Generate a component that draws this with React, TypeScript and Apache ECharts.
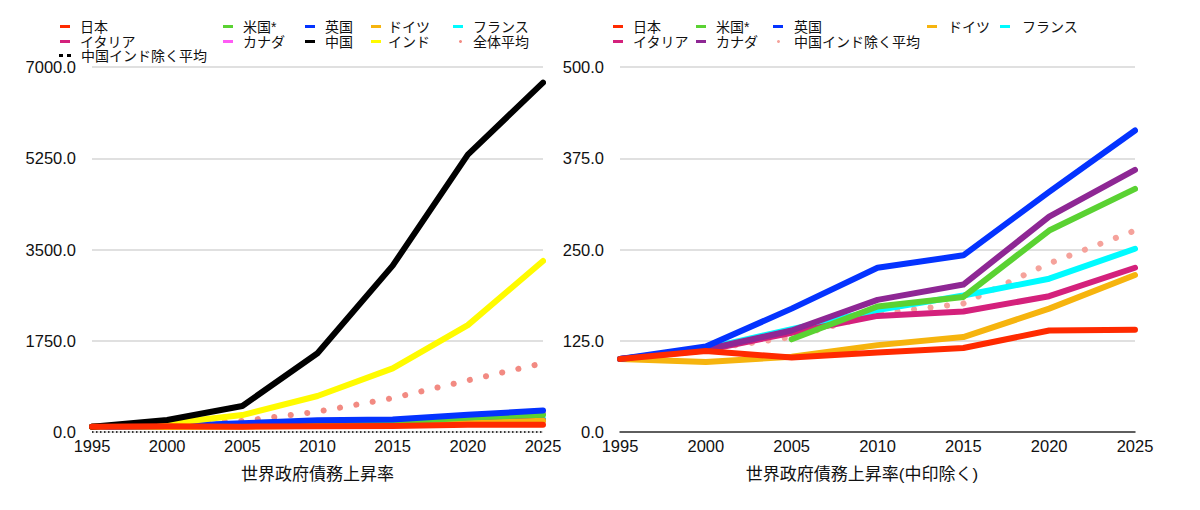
import React, { useEffect, useRef } from "react";
import * as echarts from "echarts";

const years = ["1995", "2000", "2005", "2010", "2015", "2020", "2025"];

const japan = [100, 111, 102, 109, 115, 139, 140];
const usa = [null, null, 127, 172, 185, 276, 333];
const uk = [100, 117, 169, 225, 242, 329, 413];
const germany = [100, 96, 103, 119, 130, 169, 215];
const france = [100, 114, 141, 167, 187, 210, 251];
const italy = [100, 112, 136, 159, 165, 186, 225];
const canada = [100, 113, 139, 181, 202, 295, 359];
const china = [100, 230, 500, 1510, 3190, 5320, 6700];
const india = [100, 165, 325, 690, 1221, 2050, 3280];
const avgAll = [100, 150, 210, 390, 650, 990, 1320];
const avgExLeft = [0, 0, 0, 0, 0, 0, 0];
const avgExRight = [100, 113, 130, 162, 176, 231, 276];

const leftTicks = [0, 1750, 3500, 5250, 7000];
const rightTicks = [0, 125, 250, 375, 500];

const FONT = "'Liberation Sans', 'Noto Sans CJK JP', sans-serif";

const C = {
  japan: "#ff2a00",
  usa: "#5ad232",
  uk: "#0433ff",
  germany: "#f6b40e",
  france: "#00fbff",
  italy: "#d4217c",
  canadaL: "#ff5cf5",
  canadaR: "#8e2794",
  china: "#000000",
  india: "#fffb00",
  avgL: "#f28a82",
  avgR: "#f5a29b",
};

function lineSeries(name: string, data: any[], color: string, extra: any = {}) {
  return {
    type: "line",
    name,
    data,
    color,
    symbol: "none",
    showSymbol: false,
    smooth: false,
    lineStyle: { width: 6, color, cap: "round", join: "round" },
    itemStyle: { color },
    ...extra,
  };
}

function dotted(name: string, data: any[], color: string) {
  return lineSeries(name, data, color, {
    lineStyle: { width: 6, color, type: [0.1, 16.5], cap: "round" },
  });
}

function legendItem(name: string, left: number, top: number, opts: any = {}) {
  return {
    data: [name],
    left,
    top,
    padding: 0,
    itemGap: 0,
    itemWidth: opts.itemWidth ?? 10,
    itemHeight: opts.itemHeight ?? 3,
    icon: opts.icon ?? "rect",
    selectedMode: false,
    textStyle: {
      fontFamily: FONT,
      fontSize: 14,
      lineHeight: 15,
      color: "#111",
      padding: [0, 0, 0, opts.pad ?? 5],
    },
  };
}

function axisBase(ticks: number[]) {
  return {
    type: "value",
    min: ticks[0],
    max: ticks[ticks.length - 1],
    interval: ticks[1] - ticks[0],
    axisLine: { show: false },
    axisTick: { show: false },
    axisLabel: {
      formatter: (v: number) => v.toFixed(1),
      fontFamily: FONT,
      fontSize: 16.5,
      color: "#111",
      margin: 16,
    },
    splitLine: { show: true, lineStyle: { color: "#d6d6d6", width: 1.5 } },
  };
}

function xAxisBase(name: string, axisLine: any, namePad: number[]) {
  return {
    type: "category",
    data: years,
    boundaryGap: false,
    axisLine,
    axisTick: { show: false },
    axisLabel: {
      fontFamily: FONT,
      fontSize: 16.5,
      color: "#111",
      margin: 6,
      interval: 0,
    },
    name,
    nameLocation: "middle",
    nameGap: 34,
    nameTextStyle: { fontFamily: FONT, fontSize: 17, color: "#111", padding: namePad },
  };
}

const row = [19, 34, 48];

function leftOption() {
  return {
    animation: false,
    grid: { left: 92, right: 57, top: 67, bottom: 78 },
    legend: [
      legendItem("日本", 60, row[0]),
      legendItem("イタリア", 60, row[1]),
      legendItem("中国インド除く平均", 59, row[2], {
        icon: "path://M0,0h4v3h-4z M8,0h4v3h-4z",
        itemWidth: 12,
        itemHeight: 3,
        pad: 5,
      }),
      legendItem("米国*", 223, row[0]),
      legendItem("カナダ", 223, row[1]),
      legendItem("英国", 305, row[0]),
      legendItem("中国", 305, row[1]),
      legendItem("ドイツ", 371, row[0], { pad: 2 }),
      legendItem("インド", 371, row[1], { pad: 2 }),
      legendItem("フランス", 453, row[0]),
      legendItem("全体平均", 459, row[1], {
        icon: "circle",
        itemWidth: 3,
        itemHeight: 3,
        pad: 6,
      }),
    ],
    xAxis: xAxisBase("世界政府債務上昇率", { show: false }, [0, 0, 0, 0]),
    yAxis: axisBase(leftTicks),
    series: [
      lineSeries("中国インド除く平均", avgExLeft, "#000", {
        lineStyle: { width: 1.5, color: "#000", type: [1.5, 2.5] },
        clip: false,
      }),
      dotted("全体平均", avgAll, C.avgL),
      lineSeries("フランス", france, C.france),
      lineSeries("カナダ", canada, C.canadaL),
      lineSeries("イタリア", italy, C.italy),
      lineSeries("ドイツ", germany, C.germany),
      lineSeries("米国*", usa, C.usa),
      lineSeries("英国", uk, C.uk),
      lineSeries("インド", india, C.india),
      lineSeries("中国", china, C.china),
      lineSeries("日本", japan, C.japan),
    ],
  };
}

const OFF = 500;

function rightOption() {
  return {
    animation: false,
    grid: { left: 620 - OFF, right: 65, top: 67, bottom: 78 },
    legend: [
      legendItem("日本", 613 - OFF, row[0]),
      legendItem("イタリア", 613 - OFF, row[1]),
      legendItem("米国*", 696 - OFF, row[0]),
      legendItem("カナダ", 696 - OFF, row[1]),
      legendItem("英国", 773 - OFF, row[0], { pad: 6 }),
      legendItem("中国インド除く平均", 777 - OFF, row[1], {
        icon: "circle",
        itemWidth: 3,
        itemHeight: 3,
        pad: 9,
      }),
      legendItem("ドイツ", 927 - OFF, row[0], { pad: 6 }),
      legendItem("フランス", 1000 - OFF, row[0], { pad: 7 }),
    ],
    xAxis: xAxisBase(
      "世界政府債務上昇率(中印除く)",
      { show: true, lineStyle: { color: "#333", width: 1.5 } },
      [0, 31, 0, 0]
    ),
    yAxis: axisBase(rightTicks),
    series: [
      dotted("中国インド除く平均", avgExRight, C.avgR),
      lineSeries("フランス", france, C.france),
      lineSeries("イタリア", italy, C.italy),
      lineSeries("カナダ", canada, C.canadaR),
      lineSeries("米国*", usa, C.usa),
      lineSeries("ドイツ", germany, C.germany),
      lineSeries("英国", uk, C.uk),
      lineSeries("日本", japan, C.japan),
    ],
  };
}

function Chart({ option, style }: { option: any; style: React.CSSProperties }) {
  const ref = useRef<HTMLDivElement>(null);
  useEffect(() => {
    if (!ref.current) return;
    const chart = echarts.init(ref.current, undefined, { renderer: "svg" });
    chart.setOption(option);
    return () => chart.dispose();
  }, []);
  return <div ref={ref} style={style} />;
}

export default function App() {
  return (
    <div
      style={{
        position: "absolute",
        left: 0,
        top: 0,
        width: 1200,
        height: 510,
        background: "#fff",
        overflow: "hidden",
      }}
    >
      <Chart
        option={leftOption()}
        style={{ position: "absolute", left: 0, top: 0, width: 600, height: 510 }}
      />
      <Chart
        option={rightOption()}
        style={{ position: "absolute", left: OFF, top: 0, width: 1200 - OFF, height: 510 }}
      />
    </div>
  );
}
